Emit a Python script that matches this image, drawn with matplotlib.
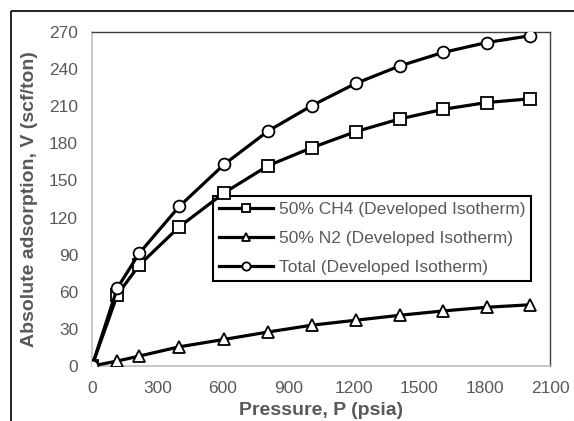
import matplotlib
matplotlib.use("Agg")
import matplotlib.pyplot as plt
from matplotlib.lines import Line2D

plt.rcParams['font.family'] = ['Liberation Sans', 'DejaVu Sans']

# pressure points (psia)
pressure = [0, 116, 216, 400, 606, 808, 1008, 1210, 1410, 1610, 1810, 2010]
# adsorbed volume (scf/ton)
ch4 = [0, 57.5, 81.5, 112.5, 140, 162, 176.5, 189.5, 199.7, 207.5, 213, 216]
n2 = [0, 4, 8, 15.5, 21.5, 27.5, 33, 37, 41, 44.5, 47.5, 49.5]
total = [0, 63, 91, 129, 163, 190, 210.5, 228.5, 242.5, 253.5, 261.5, 267]

labels = ['50% CH4 (Developed Isotherm)',
          '50% N2 (Developed Isotherm)',
          'Total (Developed Isotherm)']

gray = '#595959'

fig = plt.figure(figsize=(5.74, 4.21), dpi=100)
ax = fig.add_axes([92/574, 55/421, 458/574, 334/421])

# outer chart border (only top/left visible in the crop)
fig.add_artist(Line2D([10.5/574, 10.5/574], [-0.05, 1 - 10.5/421], color='black',
                      lw=1.2, solid_capstyle='butt'))
fig.add_artist(Line2D([10.5/574, 1.05], [1 - 10.5/421, 1 - 10.5/421], color='black',
                      lw=1.2, solid_capstyle='butt'))

style = dict(color='black', lw=2.3, mfc='white', mec='black', mew=1.3, zorder=3)
ax.plot(pressure, ch4, marker='s', ms=8.5, label=labels[0], **style)
ax.plot(pressure, n2, marker='^', ms=8.5, label=labels[1], **style)
ax.plot(pressure, total, marker='o', ms=8.5, label=labels[2], **style)

ax.set_xlim(0, 2100)
ax.set_ylim(0, 270)
ax.set_xticks(range(0, 2101, 300))
ax.set_yticks(range(0, 271, 30))
ax.tick_params(length=0, labelsize=12.5, labelcolor=gray)
ax.tick_params(axis='y', pad=10)
ax.tick_params(axis='x', pad=11)

for s in ['left', 'bottom']:
    ax.spines[s].set_color('#BFBFBF')
    ax.spines[s].set_linewidth(1.2)
for s in ['top', 'right']:
    ax.spines[s].set_color('#404040')
    ax.spines[s].set_linewidth(1.0)

ax.set_xlabel('Pressure, P (psia)', fontsize=14, fontweight='bold', color=gray, labelpad=4)
ax.set_ylabel('Absolute adsorption, V (scf/ton)', fontsize=14, fontweight='bold', color=gray, labelpad=8)

leg = ax.legend(loc='upper left', bbox_to_anchor=(0.264, 0.509), borderaxespad=0,
                fontsize=12.5, handlelength=3.1, handletextpad=0.35, labelspacing=0.8,
                markerscale=0.7, fancybox=False, framealpha=1, edgecolor='black',
                borderpad=0.35)
leg.get_frame().set_linewidth(1.5)
for t in leg.get_texts():
    t.set_color(gray)
leg.set_zorder(2.5)

fig.savefig('out.png', dpi=100)
